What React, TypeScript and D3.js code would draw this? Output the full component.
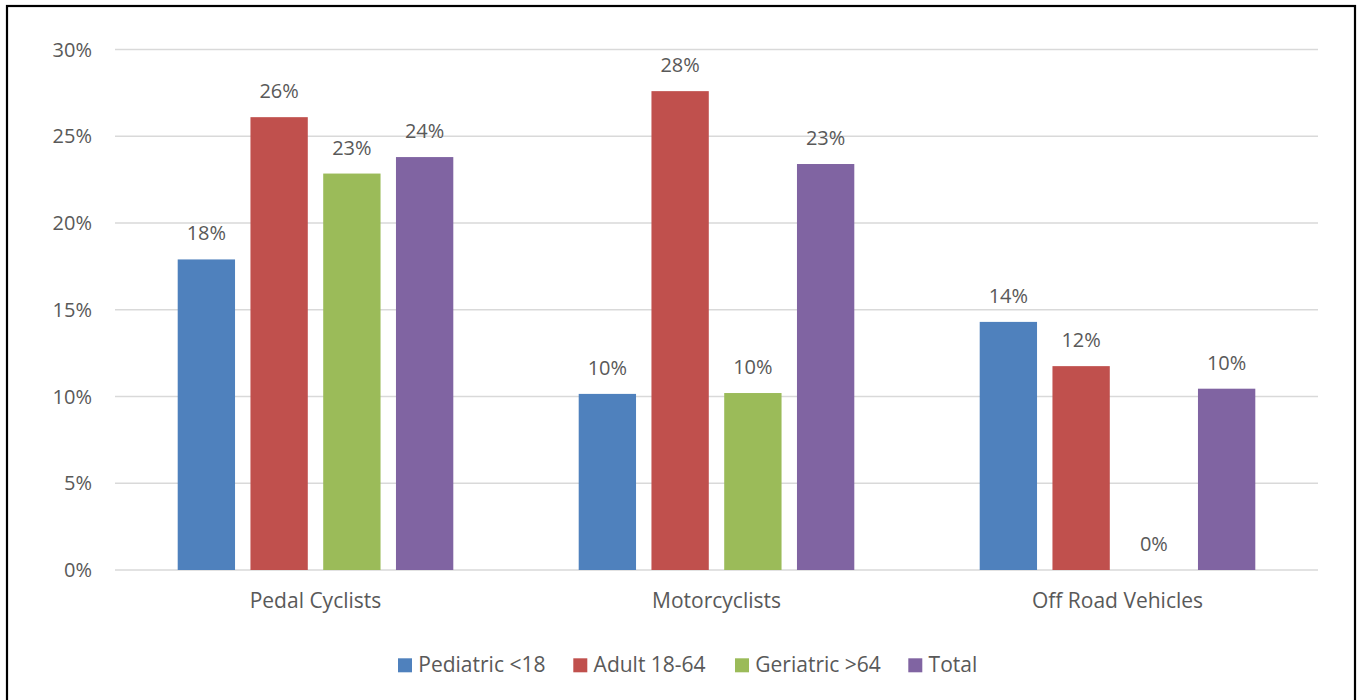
import React from "react";
import * as d3 from "d3";

const categories = ["Pedal Cyclists", "Motorcyclists", "Off Road Vehicles"];
const seriesNames = ["Pediatric <18", "Adult 18-64", "Geriatric >64", "Total"];
const pediatric = [0.179, 0.1015, 0.143];
const adult = [0.261, 0.276, 0.1175];
const geriatric = [0.2285, 0.102, 0];
const total = [0.238, 0.234, 0.1045];
const seriesValues = [pediatric, adult, geriatric, total];
const colors = ["#4F81BD", "#C0504D", "#9BBB59", "#8064A2"];
const yTicks = [0, 0.05, 0.1, 0.15, 0.2, 0.25, 0.3];

const W = 1359;
const H = 700;
const plotLeft = 115;
const plotRight = 1318;
const plotTop = 49.5;
const plotBottom = 570;
const FONT = "'Open Sans', 'Noto Sans', sans-serif";
const TXT = "#595959";

export default function App() {
  const x0 = d3.scaleBand<string>().domain(categories).range([plotLeft, plotRight]).padding(0);
  const groupPad = 62.7;
  const x1 = d3
    .scaleBand<string>()
    .domain(seriesNames)
    .range([groupPad, x0.bandwidth() - groupPad])
    .paddingInner(0.212)
    .paddingOuter(0);
  const y = d3.scaleLinear().domain([0, 0.3]).range([plotBottom, plotTop]);
  const fmt = d3.format(".0%");

  const legendX = [398, 573.3, 735, 908.3];

  return (
    <svg
      width={W}
      height={H}
      style={{ position: "absolute", left: 0, top: 0, background: "#fff" }}
      fontFamily={FONT}
    >
      <rect x={0} y={0} width={W} height={H} fill="#fff" />
      <rect x={7} y={6} width={1348} height={720} fill="none" stroke="#000" strokeWidth={2.2} />
      {yTicks.map((t) => (
        <g key={t}>
          <line x1={plotLeft} x2={plotRight} y1={y(t)} y2={y(t)} stroke="#D9D9D9" strokeWidth={1.5} />
          <text x={92} y={y(t)} dy="0.36em" textAnchor="end" fontSize={20} fill={TXT}>
            {fmt(t)}
          </text>
        </g>
      ))}
      {categories.map((c, ci) => (
        <g key={c} transform={`translate(${x0(c)},0)`}>
          {seriesNames.map((s, si) => {
            const v = seriesValues[si][ci];
            const bx = x1(s)!;
            return (
              <g key={s}>
                <rect
                  x={bx}
                  y={y(v)}
                  width={x1.bandwidth()}
                  height={plotBottom - y(v)}
                  fill={colors[si]}
                />
                <text
                  x={bx + x1.bandwidth() / 2}
                  y={y(v) - 19}
                  textAnchor="middle"
                  fontSize={20}
                  fill={TXT}
                >
                  {fmt(v)}
                </text>
              </g>
            );
          })}
          <text x={x0.bandwidth() / 2} y={608} textAnchor="middle" fontSize={21} fill={TXT}>
            {c}
          </text>
        </g>
      ))}
      {seriesNames.map((s, i) => (
        <g key={s} transform={`translate(${legendX[i]},0)`}>
          <rect x={0} y={658.3} width={14} height={14} fill={colors[i]} />
          <text x={20.3} y={671.7} fontSize={21} fill={TXT}>
            {s}
          </text>
        </g>
      ))}
    </svg>
  );
}
